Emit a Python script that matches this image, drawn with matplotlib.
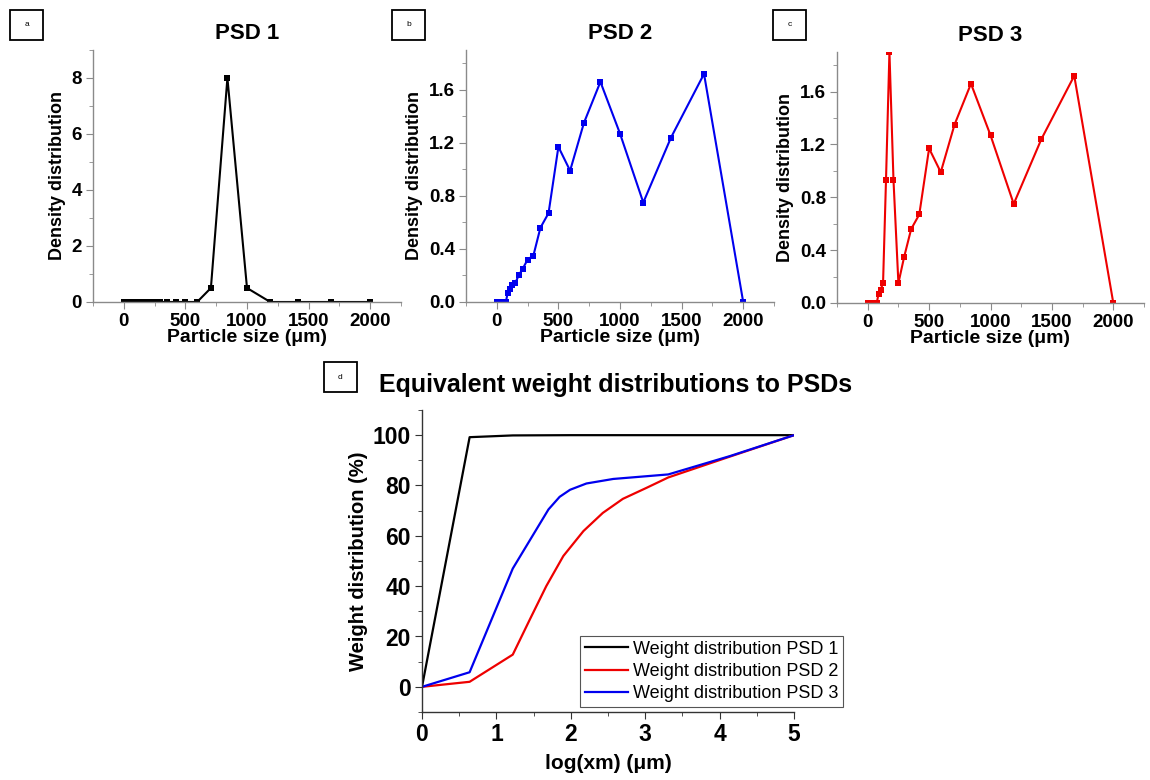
import matplotlib
matplotlib.use('Agg')
import matplotlib.pyplot as plt
from matplotlib.ticker import MultipleLocator
from matplotlib.lines import Line2D
from matplotlib.patches import Rectangle

plt.rcParams['font.family'] = ['Liberation Sans', 'DejaVu Sans']

# particle size classes (um)
size_um = [0, 53, 63, 74, 88, 105, 125, 149, 177, 210, 250, 297, 354, 420,
           500, 595, 707, 841, 1000, 1189, 1414, 1682, 2000]

# density distributions
psd1 = [0, 0, 0, 0, 0, 0, 0, 0, 0, 0, 0, 0, 0, 0,
        0, 0, 0.5, 8.0, 0.5, 0, 0, 0, 0]
psd2 = [0, 0, 0, 0, 0.07, 0.10, 0.13, 0.14, 0.20, 0.25, 0.32, 0.35, 0.56, 0.67,
        1.17, 0.99, 1.35, 1.66, 1.27, 0.75, 1.24, 1.72, 0]
psd3 = [0, 0, 0, 0, 0.07, 0.10, 0.15, 0.93, 1.90, 0.93, 0.15, 0.35, 0.56, 0.67,
        1.17, 0.99, 1.35, 1.66, 1.27, 0.75, 1.24, 1.72, 0]

# cumulative weight distributions vs log(xm)
logx_w1 = [0, 0.64, 1.22, 2.0, 3.0, 4.0, 5.0]
w1 = [0, 99.2, 99.9, 100, 100, 100, 100]
logx_w2 = [0, 0.64, 1.22, 1.45, 1.67, 1.90, 2.17, 2.43, 2.70, 3.02, 3.31, 4.14, 5.0]
w2 = [0, 2.0, 12.8, 26.8, 40.0, 52.0, 61.9, 69.1, 74.7, 79.1, 83.2, 91.5, 100]
logx_w3 = [0, 0.64, 1.22, 1.70, 1.85, 1.99, 2.21, 2.57, 3.31, 4.14, 5.0]
w3 = [0, 5.8, 47.0, 70.5, 75.5, 78.3, 80.8, 82.6, 84.4, 91.7, 100]

W, H = 1150, 780
fig = plt.figure(figsize=(11.5, 7.8), dpi=100)


def box(x0, y0, w, h):
    return [x0 / W, 1 - (y0 + h) / H, w / W, h / H]


def style_axes(ax, spine_col, lab_size):
    for s in ('top', 'right'):
        ax.spines[s].set_visible(False)
    for s in ('left', 'bottom'):
        ax.spines[s].set_color(spine_col)
        ax.spines[s].set_linewidth(1.0)
    ax.tick_params(which='both', direction='out', color=spine_col)
    ax.tick_params(which='major', length=5, labelsize=lab_size, pad=3)
    ax.tick_params(which='minor', length=3)
    for t in ax.get_xticklabels() + ax.get_yticklabels():
        t.set_fontweight('bold')


def panel_letter(x0, y0, letter):
    fig.patches.append(Rectangle((x0 / W, 1 - (y0 + 30) / H), 33 / W, 30 / H,
                                 transform=fig.transFigure, fill=False,
                                 edgecolor='black', linewidth=1.3))
    fig.text((x0 + 16.5) / W, 1 - (y0 + 15) / H, letter, fontsize=6,
             ha='center', va='center')


panels = [
    (box(93, 50, 308, 252), psd1, 'black', 'PSD 1', (0, 9), 2, 1, '%d'),
    (box(466, 50, 308, 252), psd2, '#0000ee', 'PSD 2', (0, 1.9), 0.4, 0.2, '%.1f'),
    (box(837, 52, 307, 251), psd3, '#ee0000', 'PSD 3', (0, 1.9), 0.4, 0.2, '%.1f'),
]

for rect, vals, col, title, ylim, ymaj, ymin, fmt in panels:
    ax = fig.add_axes(rect)
    ax.plot(size_um, vals, color=col, lw=1.5, marker='s', ms=4.8,
            markeredgewidth=0)
    ax.set_xlim(-250, 2250)
    ax.set_ylim(*ylim)
    ax.xaxis.set_major_locator(MultipleLocator(500))
    ax.xaxis.set_minor_locator(MultipleLocator(250))
    ax.yaxis.set_major_locator(MultipleLocator(ymaj))
    ax.yaxis.set_minor_locator(MultipleLocator(ymin))
    ax.yaxis.set_major_formatter(plt.FormatStrFormatter(fmt))
    ax.set_xticks([0, 500, 1000, 1500, 2000])
    style_axes(ax, '#8a8a8a', 13.5)
    ax.set_xlabel('Particle size (\u03bcm)', fontsize=14, fontweight='bold',
                  labelpad=-1)
    ax.set_ylabel('Density distribution', fontsize=13, fontweight='bold',
                  labelpad=4)
    ax.set_title(title, fontsize=16, fontweight='bold', pad=8)

panel_letter(10, 10, 'a')
panel_letter(392, 10, 'b')
panel_letter(773, 10, 'c')
panel_letter(324, 362, 'd')

# cumulative weight panel
axd = fig.add_axes(box(422, 410, 372, 302))
axd.plot(logx_w1, w1, color='black', lw=1.6)
axd.plot(logx_w2, w2, color='#ee0000', lw=1.6)
axd.plot(logx_w3, w3, color='#0000ee', lw=1.6)
axd.set_xlim(0, 5)
axd.set_ylim(-10, 110)
axd.xaxis.set_major_locator(MultipleLocator(1))
axd.xaxis.set_minor_locator(MultipleLocator(0.5))
axd.yaxis.set_major_locator(MultipleLocator(20))
axd.yaxis.set_minor_locator(MultipleLocator(10))
axd.set_yticks([0, 20, 40, 60, 80, 100])
style_axes(axd, '#333333', 16.5)
axd.set_xlabel('log(xm) (\u03bcm)', fontsize=15, fontweight='bold', labelpad=6)
axd.set_ylabel('Weight distribution (%)', fontsize=14.5, fontweight='bold',
               labelpad=3)
fig.text(616 / W, 1 - 385 / H, 'Equivalent weight distributions to PSDs',
         fontsize=18, fontweight='bold', ha='center', va='center')

handles = [Line2D([], [], color='black', lw=1.6),
           Line2D([], [], color='#ee0000', lw=1.6),
           Line2D([], [], color='#0000ee', lw=1.6)]
labels = ['Weight distribution PSD 1', 'Weight distribution PSD 2',
          'Weight distribution PSD 3']
leg = fig.legend(handles, labels, loc='upper left',
                 bbox_to_anchor=(580 / W, 1 - 636 / H), fontsize=13,
                 frameon=True, fancybox=False, edgecolor='#555555',
                 framealpha=1, handlelength=2.4, handletextpad=0.3,
                 labelspacing=0.3, borderpad=0.25, borderaxespad=0)
leg.get_frame().set_linewidth(0.8)

fig.savefig('out.png', dpi=100)
